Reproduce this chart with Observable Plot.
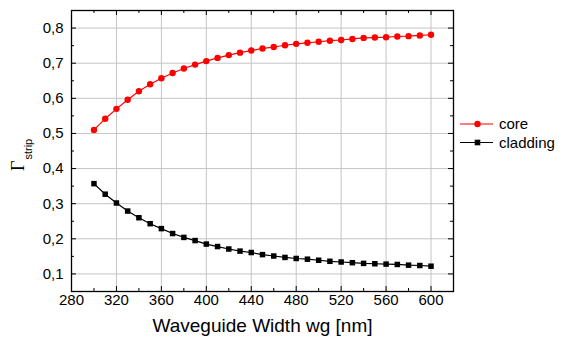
<!DOCTYPE html>
<html><head><meta charset="utf-8">
<script src="https://cdn.jsdelivr.net/npm/d3@7"></script>
<script src="https://cdn.jsdelivr.net/npm/@observablehq/plot@0.6"></script>
<style>
body{margin:0;background:#fff;}
#chart{position:relative;width:571px;height:345px;}
</style></head><body><div id="chart"></div>
<script>
const widths = [300,310,320,330,340,350,360,370,380,390,400,410,420,430,440,450,460,470,480,490,500,510,520,530,540,550,560,570,580,590,600];
const core = [0.510,0.542,0.570,0.596,0.620,0.640,0.657,0.672,0.685,0.696,0.706,0.715,0.723,0.730,0.736,0.742,0.746,0.751,0.755,0.758,0.761,0.764,0.766,0.769,0.772,0.773,0.774,0.776,0.777,0.779,0.781];
const cladding = [0.357,0.327,0.302,0.279,0.260,0.243,0.229,0.215,0.204,0.195,0.185,0.178,0.171,0.165,0.161,0.155,0.151,0.147,0.144,0.142,0.139,0.136,0.134,0.132,0.130,0.129,0.128,0.127,0.125,0.124,0.122];
const xTicks = [280,320,360,400,440,480,520,560,600];
const xMinor = [300,340,380,420,460,500,540,580];
const yTicks = [0.1,0.2,0.3,0.4,0.5,0.6,0.7,0.8];
const yMinor = [0.15,0.25,0.35,0.45,0.55,0.65,0.75];
const seriesNames = ["core","cladding"];
const xTitle = "Waveguide Width wg [nm]";
const yTitleMain = "Γ";
const yTitleSub = "strip";

const W=571,H=345,mL=71,mR=118,mT=10,mB=54;
const pw=W-mL-mR, ph=H-mT-mB;
const fmt = d => d3.format(".1f")(d).replace(".", ",");
const coreData = widths.map((w,i)=>({w, v:core[i]}));
const cladData = widths.map((w,i)=>({w, v:cladding[i]}));
const font = "'Liberation Sans', Arial, sans-serif";

const plot = Plot.plot({
  width:W, height:H, marginLeft:mL, marginRight:mR, marginTop:mT, marginBottom:mB,
  style:{fontFamily:font, fontSize:"15px", color:"#000", background:"#fff", overflow:"visible"},
  x:{domain:[280,620]},
  y:{domain:[0.05,0.85]},
  marks:[
    Plot.gridX(xTicks, {stroke:"#c4c4c4", strokeOpacity:1, strokeWidth:1}),
    Plot.gridY(yTicks, {stroke:"#c4c4c4", strokeOpacity:1, strokeWidth:1}),
    Plot.tickX(xTicks, {x:d=>d, insetTop:ph-5, stroke:"#000"}),
    Plot.tickX(xTicks, {x:d=>d, insetBottom:ph-5, stroke:"#000"}),
    Plot.tickX(xMinor, {x:d=>d, insetTop:ph-3, stroke:"#000"}),
    Plot.tickX(xMinor, {x:d=>d, insetBottom:ph-3, stroke:"#000"}),
    Plot.tickY(yTicks, {y:d=>d, insetRight:pw-5, stroke:"#000"}),
    Plot.tickY(yTicks, {y:d=>d, insetLeft:pw-5, stroke:"#000"}),
    Plot.tickY(yMinor, {y:d=>d, insetRight:pw-3, stroke:"#000"}),
    Plot.tickY(yMinor, {y:d=>d, insetLeft:pw-3, stroke:"#000"}),
    Plot.axisX(xTicks, {tickSize:0, tickPadding:3, tickFormat:d=>String(d), fontSize:15, label:null}),
    Plot.axisY(yTicks, {tickSize:0, tickPadding:8, tickFormat:fmt, fontSize:15, label:null}),
    Plot.text([xTitle], {text:d=>d, frameAnchor:"bottom", dy:40, fontSize:19, fill:"#000"}),
    Plot.line(cladData, {x:"w", y:"v", stroke:"#000", strokeWidth:1.2}),
    Plot.dot(cladData, {x:"w", y:"v", symbol:"square", r:3.1, fill:"#000", stroke:"none"}),
    Plot.line(coreData, {x:"w", y:"v", stroke:"#ff0000", strokeWidth:1.2}),
    Plot.dot(coreData, {x:"w", y:"v", r:3.2, fill:"#ff0000", stroke:"none"}),
    Plot.frame({stroke:"#000", strokeWidth:1.3})
  ]
});
document.getElementById("chart").appendChild(plot);

const svg = d3.select(plot);
// y-axis title with subscript
const yt = svg.append("text")
  .attr("transform","translate(24,171) rotate(-90)")
  .attr("text-anchor","start")
  .attr("fill","#000");
yt.append("tspan").attr("font-family","'Liberation Serif', 'Times New Roman', serif").attr("font-size",18).text(yTitleMain);
yt.append("tspan").attr("font-family",font).attr("font-size",11).attr("dy",8).attr("dx",1).text(yTitleSub);

// legend
const leg = [{name:seriesNames[0], color:"#ff0000", sym:"circle", y:124},{name:seriesNames[1], color:"#000", sym:"square", y:142.5}];
const lg = svg.append("g");
leg.forEach(l=>{
  lg.append("line").attr("x1",460).attr("x2",493).attr("y1",l.y).attr("y2",l.y).attr("stroke",l.color).attr("stroke-width",1.2);
  if(l.sym==="circle") lg.append("circle").attr("cx",477.5).attr("cy",l.y).attr("r",3.2).attr("fill",l.color);
  else lg.append("rect").attr("x",477.5-2.8).attr("y",l.y-2.8).attr("width",5.6).attr("height",5.6).attr("fill",l.color);
  lg.append("text").attr("x",499).attr("y",l.y).attr("dy","0.35em").attr("text-anchor","start").attr("font-family",font).attr("font-size",15).attr("fill","#000").text(l.name);
});
</script></body></html>
